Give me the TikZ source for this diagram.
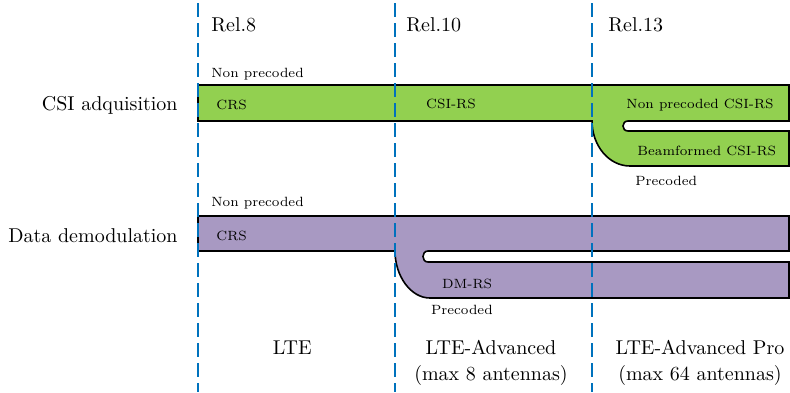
\documentclass[tikz,border=0pt]{standalone}
\definecolor{bandgreen}{HTML}{92D050}
\definecolor{bandpurple}{HTML}{A899C2}
\definecolor{relblue}{HTML}{0072BD}
\begin{document}
\begin{tikzpicture}[x=0.5pt,y=-0.5pt,
  band/.style={draw=black,line width=0.8pt,line join=miter},
  relline/.style={draw=relblue,line width=0.9pt,dash pattern=on 7pt off 3pt},
  lbl/.style={inner sep=0pt,font=\fontsize{10}{12}\selectfont},
  small/.style={inner sep=0pt,font=\fontsize{6.7}{8}\selectfont},
]
\useasboundingbox (0,0) rectangle (790,392);
% bands
\path[band,fill=bandgreen] (198,85) -- (789,85) -- (789,121) -- (628,121)
  .. controls (621.3,121) and (621.3,131) .. (628,131) -- (789,131) -- (789,166) -- (630,166)
  .. controls (609,166) and (592,145.8) .. (592,121) -- (198,121) -- cycle;
\path[band,fill=bandpurple] (198,216) -- (789,216) -- (789,251) -- (428,251)
  .. controls (421.3,251) and (421.3,262) .. (428,262) -- (789,262) -- (789,298) -- (430,298)
  .. controls (410.7,298) and (395,276) .. (395,251) -- (198,251) -- cycle;
% release lines
\coordinate (d1t) at (198,3); \coordinate (d1b) at (198,392);
\coordinate (d2t) at (395,3); \coordinate (d2b) at (395,392);
\coordinate (d3t) at (592,3); \coordinate (d3b) at (592,392);
\draw[relline] (d1t) -- (d1b);
\draw[relline] (d2t) -- (d2b);
\draw[relline] (d3t) -- (d3b);
% release labels
\node[lbl,anchor=base west] (r8) at (211,31.5) {Rel.8};
\node[lbl,anchor=base west] (r10) at (406,31.5) {Rel.10};
\node[lbl,anchor=base west] (r13) at (608,31.5) {Rel.13};
% row labels
\node[lbl,anchor=base east] (csi) at (178,110) {CSI adquisition};
\node[lbl,anchor=base east] (dem) at (178,242) {Data demodulation};
% band labels
\node[small,anchor=base west] (np1) at (211,77.5) {Non precoded};
\node[small,anchor=base west] (crs1) at (216,109) {CRS};
\node[small,anchor=base west] (csirs) at (425.7,108.5) {CSI-RS};
\node[small,anchor=base east] (npcsi) at (774,108.5) {Non precoded CSI-RS};
\node[small,anchor=base east] (bfcsi) at (776.5,155) {Beamformed CSI-RS};
\node[small,anchor=base west] (pc1) at (635,185) {Precoded};
\node[small,anchor=base west] (np2) at (211,206.5) {Non precoded};
\node[small,anchor=base west] (crs2) at (216,240) {CRS};
\node[small,anchor=base west] (dmrs) at (441.7,288.3) {DM-RS};
\node[small,anchor=base west] (pc2) at (430.7,314.3) {Precoded};
% generation labels
\node[lbl,anchor=base] (lte) at (292.3,354) {LTE};
\node[lbl,anchor=base,align=center] (ltea) at (491,380) {LTE-Advanced\\[1pt](max 8 antennas)};
\node[lbl,anchor=base,align=center] (lteap) at (700,380) {LTE-Advanced Pro\\[1pt](max 64 antennas)};
\end{tikzpicture}
\end{document}
